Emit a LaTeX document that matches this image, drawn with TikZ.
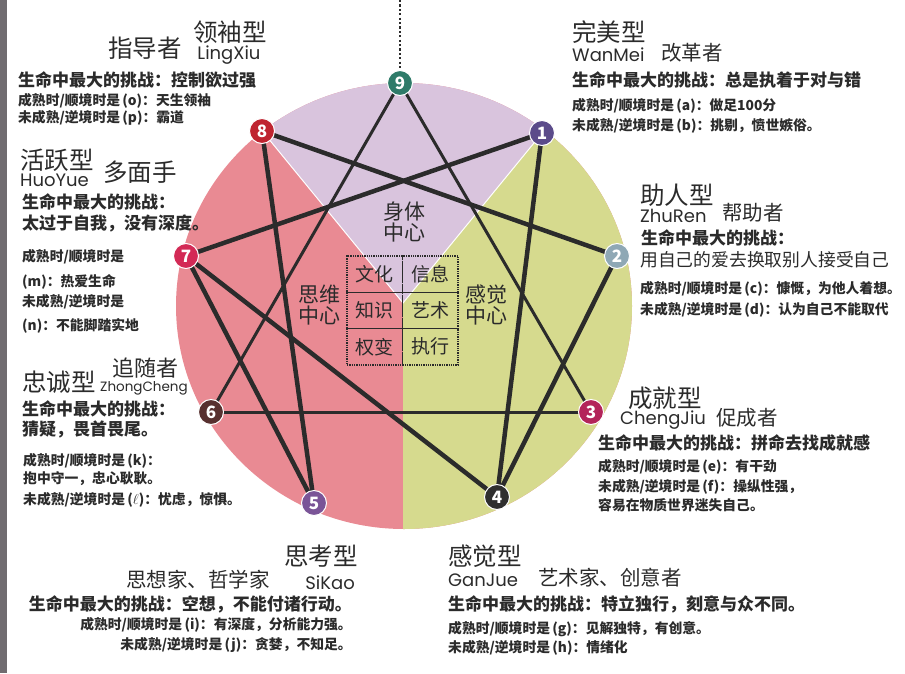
\documentclass[tikz,border=0pt]{standalone}
\usepackage{fontspec}
\setmainfont{Noto Sans CJK SC}
\newfontfamily\pyfont{Poppins}
\usetikzlibrary{backgrounds,positioning}
\pgfdeclarelayer{sectors}
\pgfdeclarelayer{links}
\pgfsetlayers{sectors,links,main}
\definecolor{ink}{HTML}{2B2B2B}
\definecolor{bodyfill}{HTML}{D9C4DD}
\definecolor{headfill}{HTML}{E98A93}
\definecolor{heartfill}{HTML}{D6DA8E}
\definecolor{edgebar}{HTML}{706C70}
\definecolor{c1}{HTML}{5B4B8A}
\definecolor{c2}{HTML}{8FA8B5}
\definecolor{c3}{HTML}{B3245A}
\definecolor{c4}{HTML}{2F2F2F}
\definecolor{c5}{HTML}{7A5497}
\definecolor{c6}{HTML}{57302F}
\definecolor{c7}{HTML}{D32A56}
\definecolor{c8}{HTML}{BF2430}
\definecolor{c9}{HTML}{2E7B69}
\newcommand{\fsz}[1]{\fontsize{#1}{#1}\selectfont}

\begin{document}
\begin{tikzpicture}
		[x=1pt,y=-1pt,
		 every node/.style={inner sep=0pt,text=ink},
		 typetitle/.style={font=\fsz{24.5}},
		 rolename/.style={font=\fsz{20.5}},
		 pinyin/.style={font=\pyfont\fsz{18}},
		 challenge/.style={font=\bfseries\fsz{17},anchor=west},
		 remark/.style={font=\bfseries\fsz{13.8},anchor=west},
		 point/.style={circle,draw=white,line width=1pt,minimum size=25pt,text=white,font=\bfseries\fsz{17}},
		 hexad/.style={ink,line width=4.5pt,line cap=round},
		 triad/.style={ink,line width=3pt,line cap=round},
		 centre/.style={align=center,font=\fsz{21}},
		 cell/.style={draw=ink,densely dotted,line width=1.3pt,minimum width=55.5pt,minimum height=36.3pt,font=\fsz{19}}]

		\useasboundingbox (0,0) rectangle (905,673);
		\fill[edgebar] (0,0) rectangle (7,673);

		% the three centres
		\begin{pgfonlayer}{sectors}
			\begin{scope}
				\clip (404,306) ellipse [x radius=228pt, y radius=223pt];
				\fill[headfill] (0,0) rectangle (905,673);
				\begin{scope}[shift={(403,303)}]
					\fill[bodyfill] (0,0) -- (-50.7:400) -- (-90:400) -- (-129.3:400) -- cycle;
					\fill[heartfill] (0,0) -- (-50.7:400) -- (0:400) -- (90:400) -- cycle;
					\draw[white,line width=1pt] (-129.3:400) -- (0,0) -- (-50.7:400);
				\end{scope}
			\end{scope}
		\end{pgfonlayer}

		\node[centre] (BodyCentre) at (404,222) {身体\\中心};
		\node[centre] (HeadCentre) at (319,305) {思维\\中心};
		\node[centre] (HeartCentre) at (486,305) {感觉\\中心};

		\node[cell] (Culture) at (374.75,274.15) {文化};
		\node[cell] (Info) at (430.25,274.15) {信息};
		\node[cell] (Knowledge) at (374.75,310.45) {知识};
		\node[cell] (Art) at (430.25,310.45) {艺术};
		\node[cell] (Adapt) at (374.75,346.75) {权变};
		\node[cell] (Execute) at (430.25,346.75) {执行};

		% the nine points
		\node[point,fill=c9] (Pt9) at (400,83) {9};
		\node[point,fill=c1] (Pt1) at (542,133) {1};
		\node[point,fill=c2] (Pt2) at (617,256) {2};
		\node[point,fill=c3] (Pt3) at (591,412) {3};
		\node[point,fill=c4] (Pt4) at (497,497) {4};
		\node[point,fill=c5] (Pt5) at (314,503) {5};
		\node[point,fill=c6] (Pt6) at (211,412) {6};
		\node[point,fill=c7] (Pt7) at (186,256) {7};
		\node[point,fill=c8] (Pt8) at (262,131) {8};

		\coordinate (TopEnd) at (400,0);
		\draw[ink,line width=2.2pt,dash pattern=on 2.2pt off 2.2pt] (TopEnd) -- (Pt9.north);

		\begin{pgfonlayer}{links}
			\draw[triad] (Pt9.center) -- (Pt3.center);
			\draw[triad] (Pt9.center) -- (Pt6.center);
			\draw[triad] (Pt6.center) -- (Pt3.center);
			\draw[hexad] (Pt1.center) -- (Pt4.center);
			\draw[hexad] (Pt4.center) -- (Pt2.center);
			\draw[hexad] (Pt2.center) -- (Pt8.center);
			\draw[hexad] (Pt8.center) -- (Pt5.center);
			\draw[hexad] (Pt5.center) -- (Pt7.center);
			\draw[hexad] (Pt7.center) -- (Pt1.center);
			\draw[hexad] (Pt7.center) -- (Pt4.center);
		\end{pgfonlayer}

		% 8
		\node[typetitle] (LingXiuType) at (230,32) {领袖型};
		\node[typetitle] (LingXiuRole) at (145,48) {指导者};
		\node[pinyin] (LingXiuName) at (229,55) {LingXiu};
		\node[challenge] (LingXiuHard) at (18,80) {生命中最大的挑战：控制欲过强};
		\node[remark] (LingXiuGood) at (18,101) {成熟时/顺境时是\,(o)：天生领袖};
		\node[remark] (LingXiuBad) at (18,118) {未成熟/逆境时是\,(p)：霸道};

		% 1
		\node[typetitle,anchor=west] (WanMeiType) at (572,32) {完美型};
		\node[pinyin,anchor=west] (WanMeiName) at (572,55) {WanMei};
		\node[rolename] (WanMeiRole) at (692,53) {改革者};
		\node[challenge] (WanMeiHard) at (572,80) {生命中最大的挑战：总是执着于对与错};
		\node[remark] (WanMeiGood) at (572,106) {成熟时/顺境时是\,(a)：做足100分};
		\node[remark] (WanMeiBad) at (572,126) {未成熟/逆境时是\,(b)：挑剔，愤世嫉俗。};

		% 7
		\node[typetitle,anchor=west] (HuoYueType) at (20,160) {活跃型};
		\node[pinyin,anchor=west] (HuoYueName) at (20,180) {HuoYue};
		\node[typetitle] (HuoYueRole) at (140,172) {多面手};
		\node[challenge] (HuoYueHard) at (22,202) {生命中最大的挑战：};
		\node[challenge] (HuoYueHard2) at (22,223) {太过于自我，没有深度。};
		\node[remark] (HuoYueGood) at (22,257) {成熟时/顺境时是};
		\node[remark] (HuoYueGood2) at (22,282) {(m)：热爱生命};
		\node[remark] (HuoYueBad) at (22,302) {未成熟/逆境时是};
		\node[remark] (HuoYueBad2) at (22,326) {(n)：不能脚踏实地};

		% 2
		\node[typetitle,anchor=west] (ZhuRenType) at (640,195) {助人型};
		\node[pinyin,anchor=west] (ZhuRenName) at (640,216) {ZhuRen};
		\node[rolename] (ZhuRenRole) at (753,213) {帮助者};
		\node[challenge] (ZhuRenHard) at (641,238) {生命中最大的挑战：};
		\node[challenge,font=\fsz{17.8}] (ZhuRenHard2) at (640,260) {用自己的爱去换取别人接受自己};
		\node[remark] (ZhuRenGood) at (640,289) {成熟时/顺境时是\,(c)：慷慨，为他人着想。};
		\node[remark] (ZhuRenBad) at (640,310) {未成熟/逆境时是\,(d)：认为自己不能取代};

		% 6
		\node[rolename,font=\fsz{22}] (ZhongChengRole) at (145,368) {追随者};
		\node[typetitle,anchor=west] (ZhongChengType) at (22,382) {忠诚型};
		\node[pinyin,anchor=west,font=\pyfont\fsz{13.5}] (ZhongChengName) at (100,388) {ZhongCheng};
		\node[challenge] (ZhongChengHard) at (22,409) {生命中最大的挑战：};
		\node[challenge] (ZhongChengHard2) at (22,429) {猜疑，畏首畏尾。};
		\node[remark] (ZhongChengGood) at (23,461) {成熟时/顺境时是\,(k)：};
		\node[remark] (ZhongChengGood2) at (23,479) {抱中守一，忠心耿耿。};
		\node[remark] (ZhongChengBad) at (23,500) {未成熟/逆境时是\,($\ell$)：忧虑，惊惧。};

		% 3
		\node[typetitle,anchor=west] (ChengJiuType) at (628,398) {成就型};
		\node[pinyin,anchor=west] (ChengJiuName) at (620,420) {ChengJiu};
		\node[rolename] (ChengJiuRole) at (747,418) {促成者};
		\node[challenge] (ChengJiuHard) at (598,443) {生命中最大的挑战：拼命去找成就感};
		\node[remark] (ChengJiuGood) at (598,467) {成熟时/顺境时是\,(e)：有干劲};
		\node[remark] (ChengJiuBad) at (598,487) {未成熟/逆境时是\,(f)：操纵性强，};
		\node[remark] (ChengJiuBad2) at (598,505) {容易在物质世界迷失自己。};

		% 5
		\node[typetitle,anchor=east] (SiKaoType) at (358,556) {思考型};
		\node[rolename,anchor=east] (SiKaoRole) at (270,580) {思想家、哲学家};
		\node[pinyin,anchor=east] (SiKaoName) at (355,583) {SiKao};
		\node[challenge,anchor=east] (SiKaoHard) at (352,604) {生命中最大的挑战：空想，不能付诸行动。};
		\node[remark,anchor=east] (SiKaoGood) at (352,625) {成熟时/顺境时是\,(i)：有深度，分析能力强。};
		\node[remark,anchor=east] (SiKaoBad) at (352,645) {未成熟/逆境时是\,(j)：贪婪，不知足。};

		% 4
		\node[typetitle,anchor=west] (GanJueType) at (448,556) {感觉型};
		\node[pinyin,anchor=west] (GanJueName) at (448,580) {GanJue};
		\node[rolename,anchor=west] (GanJueRole) at (538,578) {艺术家、创意者};
		\node[challenge] (GanJueHard) at (448,604) {生命中最大的挑战：特立独行，刻意与众不同。};
		\node[remark] (GanJueGood) at (448,629) {成熟时/顺境时是\,(g)：见解独特，有创意。};
		\node[remark] (GanJueBad) at (448,648) {未成熟/逆境时是\,(h)：情绪化};
	\end{tikzpicture}
\end{document}
